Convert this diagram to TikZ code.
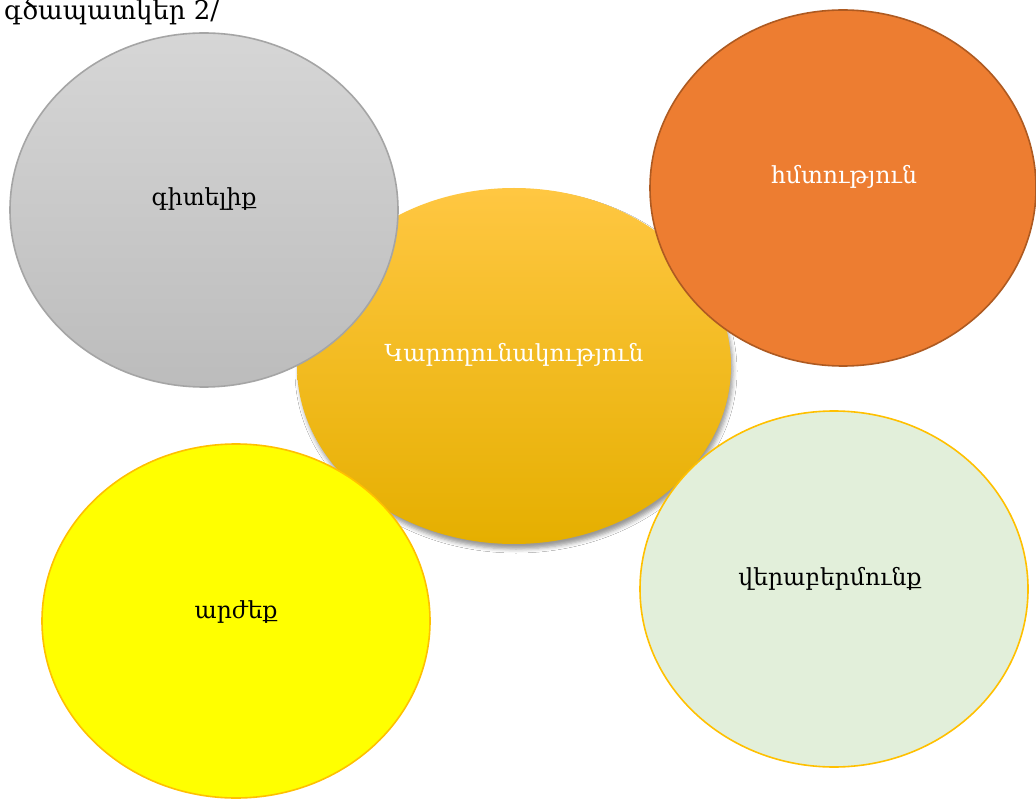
\documentclass[tikz,border=0pt]{standalone}
\usepackage{fontspec}
\setmainfont{DejaVu Serif}
\usetikzlibrary{shadows.blur}
\definecolor{grayT}{HTML}{D6D6D6}
\definecolor{grayB}{HTML}{BCBCBC}
\definecolor{grayE}{HTML}{A5A5A5}
\definecolor{goldT}{HTML}{FFC742}
\definecolor{goldM}{HTML}{FFC30F}
\definecolor{goldB}{HTML}{E5AF00}
\definecolor{orangeF}{HTML}{ED7D31}
\definecolor{orangeE}{HTML}{AE5A21}
\definecolor{yellowF}{HTML}{FFFF00}
\definecolor{amberE}{HTML}{FFC000}
\definecolor{greenF}{HTML}{E2EFDA}
\tikzset{
  blob/.style={line width=1.6pt},
  lbl/.style={font=\fontsize{23.5}{28}\selectfont, inner sep=0pt},
}
\begin{document}
\begin{tikzpicture}[x=1pt,y=-1pt]
\useasboundingbox (0,0) rectangle (1036,799);
\fill[white] (0,0) rectangle (1036,799);
% central
\path[shade, top color=goldT, middle color=goldM, bottom color=goldB, blur shadow={shadow xshift=2pt, shadow yshift=-5pt, shadow blur radius=4pt, shadow opacity=40}]
  (514,366) ellipse [x radius=217, y radius=178];
\node[lbl, text=white] (core) at (514,355) {Կարողունակություն};
% gray
\path[shade, top color=grayT, bottom color=grayB, draw=grayE, blob] (204,210) ellipse [x radius=194, y radius=177];
\node[lbl] (know) at (204,199) {գիտելիք};
% orange
\path[fill=orangeF, draw=orangeE, blob] (843,188) ellipse [x radius=193, y radius=178];
\node[lbl, text=white] (skill) at (844,177) {հմտություն};
% yellow
\path[fill=yellowF, draw=amberE, blob] (236,621) ellipse [x radius=194, y radius=177];
\node[lbl] (value) at (236,612) {արժեք};
% green
\path[fill=greenF, draw=amberE, blob] (834,589) ellipse [x radius=194, y radius=178];
\node[lbl] (att) at (830,579) {վերաբերմունք};
% caption
\node[font=\fontsize{26}{30}\selectfont, inner sep=0pt, anchor=base west] (cap) at (4,20) {գծապատկեր 2/};
\end{tikzpicture}
\end{document}
